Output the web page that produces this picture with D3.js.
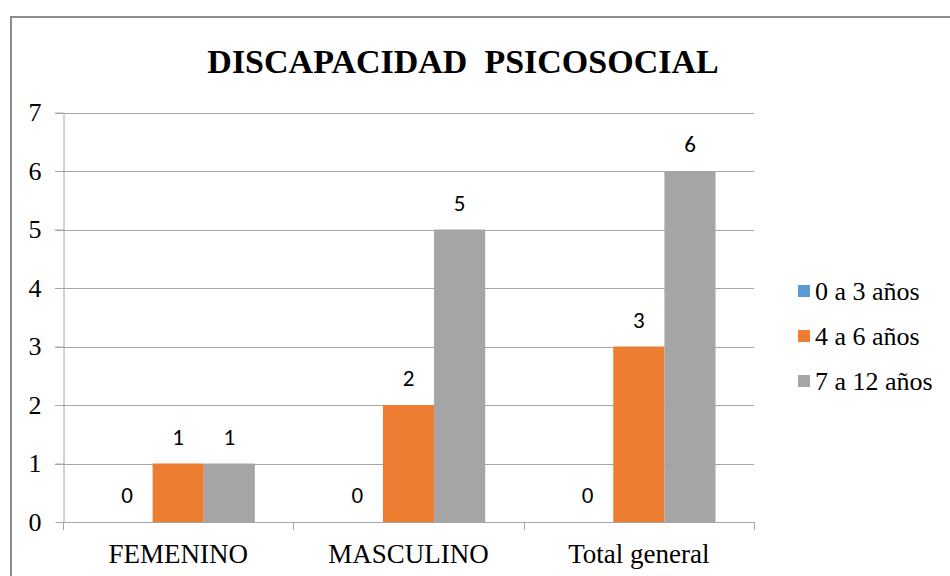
<!DOCTYPE html>
<html><head><meta charset="utf-8">
<script src="https://cdn.jsdelivr.net/npm/d3@7"></script>
<style>html,body{margin:0;padding:0;background:#fff;}svg{display:block;}</style>
</head><body>
<script>
const categories = ["FEMENINO", "MASCULINO", "Total general"];
const seriesNames = ["0 a 3 años", "4 a 6 años", "7 a 12 años"];
const values0a3 = [0, 0, 0];
const values4a6 = [1, 2, 3];
const values7a12 = [1, 5, 6];
const seriesColors = ["#5b9bd5", "#ed7d31", "#a5a5a5"];
const yTicks = [0, 1, 2, 3, 4, 5, 6, 7];
const chartTitle = "DISCAPACIDAD  PSICOSOCIAL";

(function () {
const seriesValues = [values0a3, values4a6, values7a12];
const W = 950, H = 576;
const svg = d3.select("body").append("svg").attr("width", W).attr("height", H);

svg.append("rect").attr("x", 11).attr("y", 17).attr("width", W + 10).attr("height", H + 10)
  .attr("fill", "#fff").attr("stroke", "#8c8c8c").attr("stroke-width", 2);

const pLeft = 63, pRight = 754, pTop = 112.5, pBottom = 522;
const x = d3.scaleBand().domain(categories).range([pLeft, pRight]).padding(0);
const bw = x.bandwidth();
const inner = d3.scaleBand().domain(seriesNames).range([bw * 0.167, bw * 0.833]).padding(0);
const y = d3.scaleLinear().domain([0, 7]).range([pBottom, pTop]);

const serif = "'Liberation Serif','Times New Roman',serif";
const sans = "Carlito,Calibri,'Liberation Sans',Arial,sans-serif";

// gridlines
svg.append("g").selectAll("line").data(yTicks.filter(d => d > 0)).join("line")
  .attr("x1", pLeft - 8).attr("x2", pRight)
  .attr("y1", d => Math.round(y(d)) + 0.5).attr("y2", d => Math.round(y(d)) + 0.5)
  .attr("stroke", "#a6a6a6").attr("stroke-width", 1);

// y axis
const yAxis = svg.append("g").attr("transform", `translate(${pLeft + 0.5},0)`)
  .call(d3.axisLeft(y).tickValues(yTicks).tickFormat(d3.format("d")).tickSize(8).tickSizeOuter(0).tickPadding(14));
yAxis.select(".domain").attr("stroke", "#a6a6a6");
yAxis.selectAll(".tick line").attr("stroke", "#a6a6a6");
yAxis.selectAll(".tick text").style("font-family", serif).style("font-size", "26px").attr("fill", "#000");

// bars
const g = svg.append("g");
seriesNames.forEach((s, si) => {
  g.append("g").selectAll("rect").data(categories).join("rect")
    .attr("x", c => x(c) + inner(s))
    .attr("width", inner.bandwidth())
    .attr("y", (c, i) => y(seriesValues[si][i]))
    .attr("height", (c, i) => pBottom - y(seriesValues[si][i]))
    .attr("fill", seriesColors[si]);
  g.append("g").selectAll("text").data(categories).join("text")
    .attr("x", c => x(c) + inner(s) + inner.bandwidth() / 2)
    .attr("y", (c, i) => y(seriesValues[si][i]) - 19)
    .attr("text-anchor", "middle")
    .style("font-family", sans).style("font-size", "23px").attr("fill", "#000")
    .text((c, i) => seriesValues[si][i]);
});

// x axis
const xAxis = svg.append("g").attr("transform", `translate(0,${pBottom + 0.5})`)
  .call(d3.axisBottom(x).tickSize(0).tickPadding(0));
xAxis.select(".domain").attr("stroke", "#a6a6a6").attr("d", `M${pLeft},0H${pRight}`);
xAxis.selectAll(".tick text").style("font-family", serif).style("font-size", "27px").attr("fill", "#000")
  .attr("dy", 0).attr("y", 40);
const bounds = categories.map(c => x(c)).concat([pRight]);
svg.append("g").selectAll("line").data(bounds).join("line")
  .attr("x1", d => Math.round(d) + 0.5).attr("x2", d => Math.round(d) + 0.5)
  .attr("y1", pBottom).attr("y2", pBottom + 8)
  .attr("stroke", "#a6a6a6");

// title
svg.append("text").attr("x", 463).attr("y", 73).attr("text-anchor", "middle")
  .style("font-family", serif).style("font-weight", "bold").style("font-size", "34px")
  .style("white-space", "pre").attr("xml:space", "preserve").text(chartTitle);

// legend
const lg = svg.append("g");
const rowY = [291, 336, 381];
seriesNames.forEach((s, i) => {
  lg.append("rect").attr("x", 798).attr("y", rowY[i] - 6).attr("width", 12).attr("height", 12).attr("fill", seriesColors[i]);
  lg.append("text").attr("x", 815).attr("y", rowY[i] + 9)
    .style("font-family", serif).style("font-size", "26px").attr("fill", "#000")
    .text(s);
});
})();
</script>
</body></html>
